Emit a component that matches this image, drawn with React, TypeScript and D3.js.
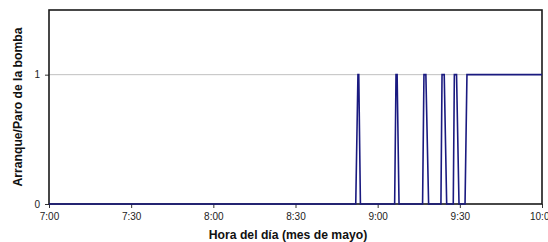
import * as d3 from 'd3';
import { useEffect, useRef } from 'react';

// minutes after 7:00 and pump state (0 = paro, 1 = arranque)
const MINUTES = [
    0, 112.0, 112.8, 113.1, 113.7,
    126.2, 126.7, 127.1, 127.8,
    136.4, 136.9, 137.6, 138.6,
    143.1, 143.5, 144.3, 145.2,
    147.6, 148.0, 148.8, 149.7,
    151.9, 152.6, 180,
];
const STATE = [
    0, 0, 1, 1, 0,
    0, 1, 1, 0,
    0, 1, 1, 0,
    0, 1, 1, 0,
    0, 1, 1, 0,
    0, 1, 1,
];
const X_TICKS = [0, 30, 60, 90, 120, 150, 180];
const X_TICK_LABELS = ['7:00', '7:30', '8:00', '8:30', '9:00', '9:30', '10:00'];
const Y_TICKS = [0, 1];

const WIDTH = 548;
const HEIGHT = 242;
const margin = { top: 10, right: 6, bottom: 38, left: 49 };

export default function App() {
    const ref = useRef<SVGSVGElement>(null);

    useEffect(() => {
        const svg = d3.select(ref.current!);
        svg.selectAll('*').remove();

        const x = d3.scaleLinear().domain([0, 180]).range([margin.left, WIDTH - margin.right]);
        const y = d3.scaleLinear().domain([0, 1.5]).range([HEIGHT - margin.bottom, margin.top]);

        const font = 'Liberation Sans, Arial, sans-serif';

        // gridline
        svg.append('g')
            .selectAll('line')
            .data(Y_TICKS.filter((d) => d > 0))
            .join('line')
            .attr('x1', x(0))
            .attr('x2', x(180))
            .attr('y1', (d) => y(d))
            .attr('y2', (d) => y(d))
            .attr('stroke', '#c0c0c0')
            .attr('stroke-width', 1);

        // x axis
        const xAxis = svg
            .append('g')
            .attr('transform', `translate(0,${y(0)})`)
            .call(
                d3
                    .axisBottom(x)
                    .tickValues(X_TICKS)
                    .tickSize(4)
                    .tickPadding(5)
                    .tickFormat((_, i) => X_TICK_LABELS[i])
            );
        xAxis.select('.domain').remove();
        xAxis.selectAll('.tick line').attr('stroke', '#333');
        xAxis.selectAll('.tick text')
            .attr('font-family', font)
            .attr('font-size', 10)
            .attr('fill', '#222');

        // y axis
        const yAxis = svg
            .append('g')
            .attr('transform', `translate(${x(0)},0)`)
            .call(d3.axisLeft(y).tickValues(Y_TICKS).tickSize(4).tickPadding(5).tickFormat(d3.format('d')));
        yAxis.select('.domain').remove();
        yAxis.selectAll('.tick line').attr('stroke', '#333');
        yAxis.selectAll('.tick text')
            .attr('font-family', font)
            .attr('font-size', 10)
            .attr('fill', '#222');

        // plot frame
        svg.append('rect')
            .attr('x', x(0))
            .attr('y', y(1.5))
            .attr('width', x(180) - x(0))
            .attr('height', y(0) - y(1.5))
            .attr('fill', 'none')
            .attr('stroke', '#1a1a1a')
            .attr('stroke-width', 1.6);

        // series
        const line = d3
            .line<number>()
            .x((d) => x(d))
            .y((_, i) => y(STATE[i]));
        svg.append('path')
            .datum(MINUTES)
            .attr('d', line)
            .attr('fill', 'none')
            .attr('stroke', '#1a1a80')
            .attr('stroke-width', 1.6);

        // axis titles
        svg.append('text')
            .attr('x', 288)
            .attr('y', 239)
            .attr('text-anchor', 'middle')
            .attr('font-family', font)
            .attr('font-size', 12.2)
            .attr('font-weight', 'bold')
            .attr('fill', '#111')
            .text('Hora del día (mes de mayo)');

        svg.append('text')
            .attr('transform', `translate(21.5,${(y(0) + y(1.5)) / 2}) rotate(-90)`)
            .attr('text-anchor', 'middle')
            .attr('font-family', font)
            .attr('font-size', 12.2)
            .attr('font-weight', 'bold')
            .attr('fill', '#111')
            .text('Arranque/Paro de la bomba');
    }, []);

    return (
        <svg
            ref={ref}
            width={WIDTH}
            height={HEIGHT}
            style={{ position: 'absolute', left: 0, top: 0, background: '#fff' }}
        />
    );
}
